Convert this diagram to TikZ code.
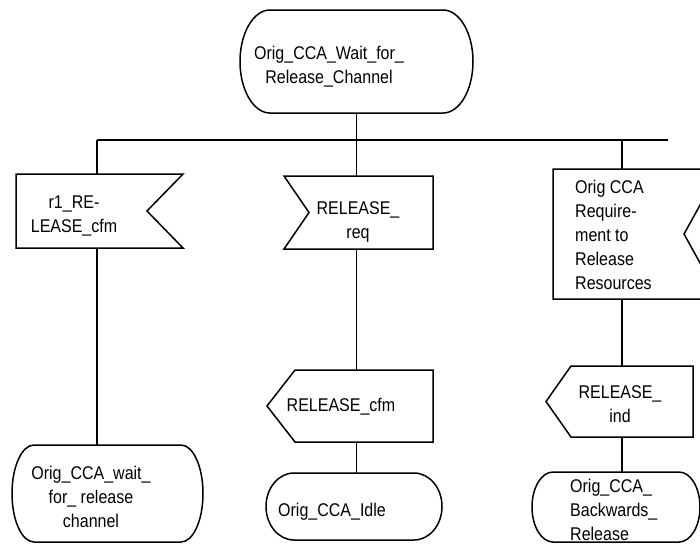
\documentclass[tikz,border=0pt]{standalone}
\usepackage{fontspec}
\setmainfont[FakeStretch=0.87]{Liberation Sans}
\usetikzlibrary{calc}

\tikzset{
  shapebox/.style={draw=none, inner sep=0pt, outer sep=0pt},
  txt/.style={font=\fontsize{18.4}{24}\selectfont, inner sep=0pt, align=center},
  line/.style={line width=1.5pt},
}
% state: flat top and bottom, elliptic ends
\def\stateshape(#1)(#2){\draw[line] let \p1=(#1.north east), \p2=(#1.south west), \n1={(\y1-\y2)/2} in (\x2+#2pt,\y1) -- (\x1-#2pt,\y1) arc[start angle=90, end angle=-90, x radius=#2pt, y radius=\n1] -- (\x2+#2pt,\y2) arc[start angle=270, end angle=90, x radius=#2pt, y radius=\n1] -- cycle;}
% input signals
\def\inright(#1)(#2){\draw[line] (#1.north west) -- (#1.north east) -- ([xshift=-#2pt]#1.east) -- (#1.south east) -- (#1.south west) -- cycle;}
\def\inleft(#1)(#2){\draw[line] (#1.north west) -- (#1.north east) -- (#1.south east) -- (#1.south west) -- ([xshift=#2pt]#1.west) -- cycle;}
% output signal
\def\outleft(#1)(#2){\draw[line] (#1.west) -- ([xshift=#2pt]#1.north west) -- (#1.north east) -- (#1.south east) -- ([xshift=#2pt]#1.south west) -- cycle;}

\begin{document}
\begin{tikzpicture}[x=1pt, y=-1pt]
			%%%%% START %%%%%
			\useasboundingbox (0,0) rectangle (700,544);
			
			\node[shapebox, minimum width=233pt, minimum height=103pt] (wait) at (356.5,61.5) {};
			\stateshape(wait)(30)
			\node[txt] (waittxt) at (329,67) {Orig\_CCA\_Wait\_for\_\\Release\_Channel};
			
			\coordinate (busL) at (97,140);
			\coordinate (busM) at (356.5,140);
			\coordinate (busR) at (622,140);
			\coordinate (busE) at (668,140);
			\draw[line] (busL) -- (busE);
			\draw[line] (wait.south) -- (busM);
			
			% left branch
			\node[shapebox, minimum width=167pt, minimum height=74pt] (relcfm) at (99.5,211) {};
			\inright(relcfm)(36)
			\node[txt] (relcfmtxt) at (74,216) {r1\_RE-\\LEASE\_cfm};
			
			\node[shapebox, minimum width=191pt, minimum height=97pt] (waitrel) at (107.5,493.5) {};
			\stateshape(waitrel)(22)
			\node[txt] (waitreltxt) at (91,497) {Orig\_CCA\_wait\_\\for\_ release\\channel};
			
			\draw[line] (busL) -- (busL |- relcfm.north);
			\draw[line] (busL |- relcfm.south) -- (busL |- waitrel.north);
			
			% middle branch
			\node[shapebox, minimum width=149pt, minimum height=73pt] (relreq) at (358.5,212.5) {};
			\inleft(relreq)(25)
			\node[txt] (relreqtxt) at (358,222) {RELEASE\_\\req};
			
			\node[shapebox, minimum width=166pt, minimum height=72pt] (sendcfm) at (350,406) {};
			\outleft(sendcfm)(28)
			\node[txt] (sendcfmtxt) at (341,407) {RELEASE\_cfm};
			
			\node[shapebox, minimum width=176pt, minimum height=67pt] (idle) at (354,506.5) {};
			\stateshape(idle)(28)
			\node[txt] (idletxt) at (332,512) {Orig\_CCA\_Idle};
			
			\draw[line] (busM) -- (busM |- relreq.north);
			\draw[line] (busM |- relreq.south) -- (busM |- sendcfm.north);
			\draw[line] (busM |- sendcfm.south) -- (busM |- idle.north);
			
			% right branch
			\node[shapebox, minimum width=167pt, minimum height=130pt] (relres) at (636.5,234) {};
			\inright(relres)(36)
			\node[txt, anchor=west, align=left] (relrestxt) at (575,235) {Orig CCA\\Require-\\ment to\\Release\\Resources};
			
			\node[shapebox, minimum width=147pt, minimum height=71pt] (sendind) at (619.5,401.5) {};
			\outleft(sendind)(25)
			\node[txt] (sendindtxt) at (620,404) {RELEASE\_\\ind};
			
			\node[shapebox, minimum width=168pt, minimum height=70pt] (backrel) at (616,507) {};
			\stateshape(backrel)(21)
			\node[txt, anchor=west, align=left] (backreltxt) at (570,510) {Orig\_CCA\_\\Backwards\_\\Release};
			
			\draw[line] (busR) -- (busR |- relres.north);
			\draw[line] (busR |- relres.south) -- (busR |- sendind.north);
			\draw[line] (busR |- sendind.south) -- (busR |- backrel.north);
			%%%%% END %%%%%
\end{tikzpicture}
\end{document}
